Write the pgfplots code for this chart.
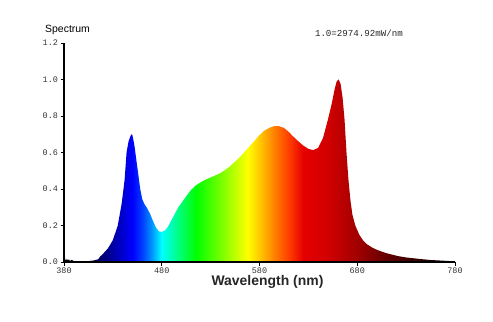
\documentclass[border=0pt]{standalone}
\usepackage{fontspec}
\setmainfont{Liberation Sans}
\setmonofont{Liberation Mono}
\usepackage{pgfplots}
\pgfplotsset{compat=1.18}
\pgfdeclarehorizontalshading{spectrum}{100bp}{
rgb(0bp)=(0,0,0);
rgb(25bp)=(0,0,0);
rgb(27.5bp)=(0.04,0,0.25);
rgb(30bp)=(0,0,0.47);
rgb(32.5bp)=(0,0,0.82);
rgb(33.75bp)=(0,0,1);
rgb(35bp)=(0,0.24,1);
rgb(36.25bp)=(0,0.59,1);
rgb(37.5bp)=(0,1,1);
rgb(39.4bp)=(0,1,0.55);
rgb(41.9bp)=(0,1,0);
rgb(45.6bp)=(0.55,1,0);
rgb(48.5bp)=(1,1,0);
rgb(50.25bp)=(1,0.75,0);
rgb(51.9bp)=(1,0.5,0);
rgb(53.75bp)=(1,0.24,0);
rgb(55.6bp)=(0.9,0,0);
rgb(58.75bp)=(0.82,0,0);
rgb(62.5bp)=(0.63,0,0);
rgb(66.25bp)=(0.39,0,0);
rgb(70bp)=(0.2,0,0);
rgb(75bp)=(0,0,0);
rgb(100bp)=(0,0,0)}
\pgfplotstableread{
x y
380 0.000
381 0.020
382 0.006
383 0.018
384 0.008
385 0.015
386 0.006
388 0.012
390 0.005
395 0.004
400 0.004
405 0.005
410 0.008
415 0.015
417 0.030
420 0.045
425 0.075
430 0.120
435 0.200
439 0.320
442 0.450
444 0.600
446 0.660
448 0.690
449 0.700
450 0.695
452 0.640
454 0.560
456 0.480
458 0.400
460 0.345
462 0.320
465 0.295
468 0.265
471 0.225
474 0.190
477 0.168
480 0.165
483 0.172
486 0.190
489 0.220
493 0.260
497 0.300
501 0.330
505 0.360
510 0.395
515 0.420
520 0.437
525 0.452
530 0.463
535 0.475
540 0.487
545 0.505
550 0.525
555 0.550
560 0.575
565 0.605
570 0.635
575 0.665
580 0.695
585 0.720
590 0.735
595 0.745
600 0.744
605 0.735
610 0.712
615 0.685
620 0.660
625 0.637
630 0.620
635 0.613
640 0.625
645 0.680
650 0.780
654 0.870
657 0.950
659 0.990
661 1.000
663 0.975
665 0.900
667 0.780
669 0.600
671 0.450
673 0.340
675 0.260
678 0.200
682 0.150
686 0.118
690 0.097
695 0.080
700 0.067
705 0.057
710 0.048
716 0.040
722 0.032
730 0.025
740 0.019
747 0.015
755 0.011
765 0.008
772 0.006
780 0.004
}\spec
\begin{document}
\begin{tikzpicture}
\path[use as bounding box] (-64bp,-60bp) rectangle (429bp,262bp);
\begin{axis}[
  scale only axis,
  width=391bp, height=219bp,
  xmin=380, xmax=780, ymin=0, ymax=1.2,
  axis x line*=bottom, axis y line*=left,
  axis line style={line width=1.2pt, -},
  xtick={380,480,580,680,780},
  ytick={0,0.2,0.4,0.6,0.8,1.0,1.2},
  tick align=outside,
  major tick length=3.5bp,
  tick style={line width=0.8pt, black},
  /pgf/number format/assume math mode=true,
  yticklabel style={/pgf/number format/fixed, /pgf/number format/fixed zerofill, /pgf/number format/precision=1, font=\fontsize{8.5}{9}\selectfont\ttfamily, text=black!80},
  xticklabel style={font=\fontsize{8.5}{9}\selectfont\ttfamily, text=black!80},
  yticklabel shift=-1bp,
  xticklabel shift=-1bp,
  axis on top,
]
\addplot[draw=none, shading=spectrum, shading angle=0] table[x=x,y=y]{\spec} \closedcycle;
\end{axis}
\node[anchor=base west, inner sep=0pt, font=\fontsize{10.5}{12}\selectfont] at (-19bp,229bp) {Spectrum};
\node[anchor=base, inner sep=0pt, font=\fontsize{9.2}{10}\selectfont\ttfamily, text=black!85] at (295bp,225bp) {1.0=2974.92mW/nm};
\node[font=\fontsize{14}{16}\selectfont\bfseries, text=black!85] at (203.5bp,-20bp) {Wavelength (nm)};
\end{tikzpicture}
\end{document}
